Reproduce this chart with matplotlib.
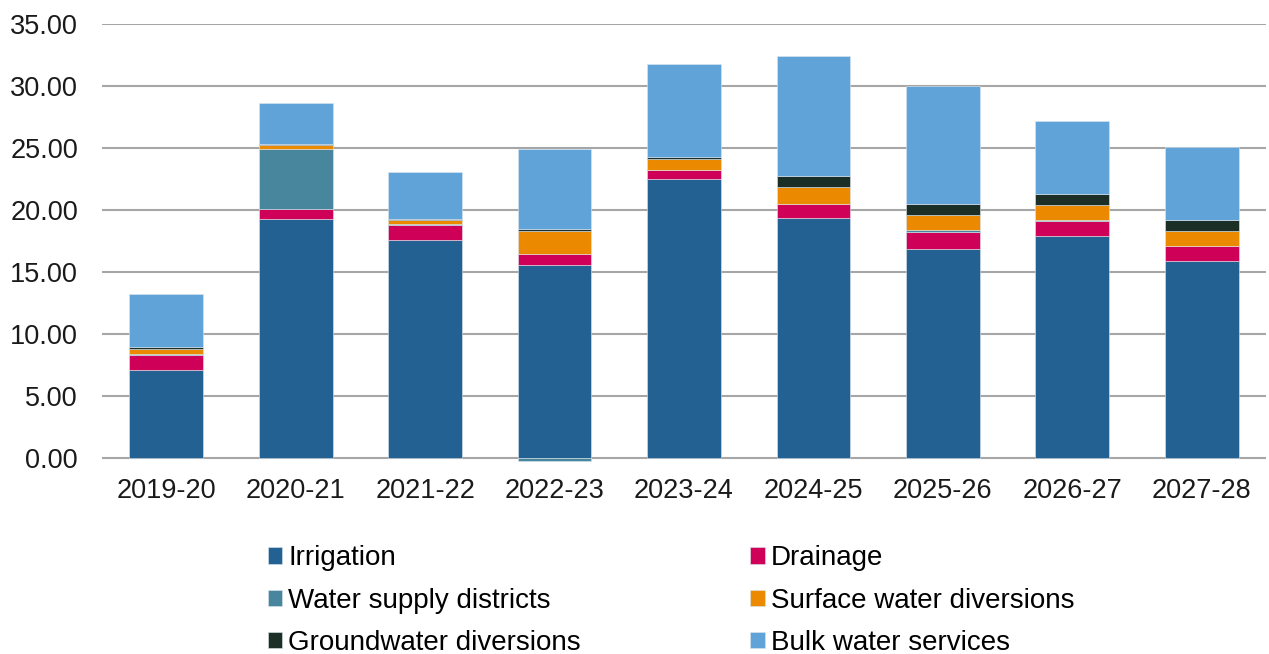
import numpy as np
import matplotlib
matplotlib.use('Agg')
import matplotlib.pyplot as plt

plt.rcParams['font.family'] = ['Liberation Sans', 'DejaVu Sans']

years = ['2019-20', '2020-21', '2021-22', '2022-23', '2023-24',
         '2024-25', '2025-26', '2026-27', '2027-28']

# stacked components
irrigation = [7.10, 19.25, 17.60, 15.60, 22.55, 19.35, 16.88, 17.93, 15.90]
drainage = [1.20, 0.80, 1.20, 0.85, 0.65, 1.18, 1.37, 1.20, 1.20]
water_supply = [0.10, 4.90, 0.12, -0.25, 0.00, 0.00, 0.15, 0.10, 0.00]
surface_water = [0.40, 0.28, 0.30, 1.85, 0.90, 1.30, 1.20, 1.15, 1.24]
groundwater = [0.15, 0.10, 0.05, 0.18, 0.16, 0.90, 0.90, 0.90, 0.89]
bulk_water = [4.25, 3.32, 3.83, 6.43, 7.54, 9.67, 9.50, 5.92, 5.87]

series = [
    ('Irrigation', irrigation, '#236192'),
    ('Drainage', drainage, '#CE0058'),
    ('Water supply districts', water_supply, '#48869E'),
    ('Surface water diversions', surface_water, '#EB8A00'),
    ('Groundwater diversions', groundwater, '#1B2F27'),
    ('Bulk water services', bulk_water, '#5FA3D8'),
]

fig = plt.figure(figsize=(12.69, 6.54), dpi=100)
ax = fig.add_axes([0.080, 0.294, 0.918, 0.669])

x = np.arange(len(years))
pos_base = np.zeros(len(years))
neg_base = np.zeros(len(years))
handles = {}
for name, vals, col in series:
    vals = np.array(vals)
    base = np.where(vals >= 0, pos_base, neg_base)
    h = ax.bar(x, vals, width=0.57, bottom=base, color=col,
               edgecolor='#dde6ee', linewidth=0.4, zorder=3)
    handles[name] = h
    pos_base = pos_base + np.where(vals >= 0, vals, 0)
    neg_base = neg_base + np.where(vals < 0, vals, 0)

ax.set_xlim(-0.5, len(years) - 0.5)
ax.set_ylim(-0.3, 35)
ax.set_yticks(np.arange(0, 36, 5))
ax.set_yticklabels([f'{v:.2f}' for v in np.arange(0, 36, 5)])
ax.set_xticks(x)
ax.set_xticklabels(years)
ax.tick_params(axis='both', length=0, labelsize=19.5, colors='#1a1a1a')
ax.tick_params(axis='y', pad=17)
ax.tick_params(axis='x', pad=12)
ax.grid(axis='y', color='#a6a6a6', linewidth=1.5, zorder=0)
for s in ax.spines.values():
    s.set_visible(False)

order = ['Irrigation', 'Water supply districts', 'Groundwater diversions',
         'Drainage', 'Surface water diversions', 'Bulk water services']
fig.legend([handles[n] for n in order], order, ncol=2,
           loc='upper left', bbox_to_anchor=(0.211, 0.166),
           frameon=False, fontsize=20, handlelength=0.52, handleheight=0.52,
           handletextpad=0.22, columnspacing=6.1, labelspacing=0.58,
           borderaxespad=0, borderpad=0)

fig.savefig('out.png', dpi=100)
